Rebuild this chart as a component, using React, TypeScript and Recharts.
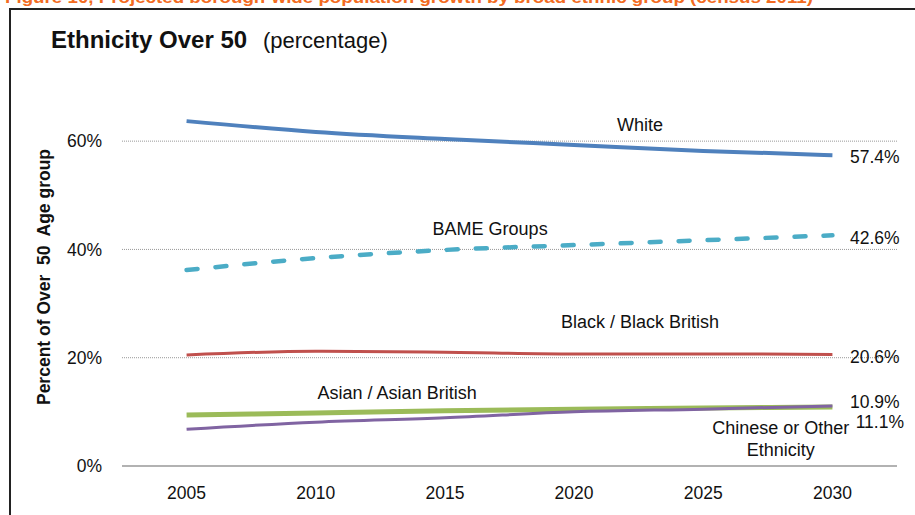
import { LineChart, Line, XAxis, YAxis, CartesianGrid, ReferenceDot } from "recharts";

// values (percent of over-50 population)
const years = [2005, 2010, 2015, 2020, 2025, 2030];
const white = [63.7, 61.7, 60.4, 59.3, 58.2, 57.4];
const bame = [36.2, 38.4, 39.9, 40.8, 41.7, 42.6];
const black = [20.5, 21.2, 21.0, 20.7, 20.7, 20.6];
const asian = [9.4, 9.8, 10.2, 10.5, 10.7, 10.9];
const chinese = [6.8, 8.1, 8.9, 10.0, 10.5, 11.1];

const yTicks = [0, 20, 40, 60];
const gridValues = [20, 40, 60];

const seriesLabels = ["White", "BAME Groups", "Black / Black British", "Asian / Asian British", "Chinese or Other", "Ethnicity"];
const endLabels = ["57.4%", "42.6%", "20.6%", "10.9%", "11.1%"];

const FONT = "'Liberation Sans', Arial, sans-serif";

// label placement, in chart (year, percent) space
const seriesLabelPos = [
  { year: 2022.55, value: 62.95 },
  { year: 2016.75, value: 43.9 },
  { year: 2022.55, value: 26.6 },
  { year: 2013.15, value: 13.5 },
  { year: 2028.0, value: 7.0 },
  { year: 2028.0, value: 2.95 },
];
const endLabelPos = [
  { year: 2030.68, value: 57.04 },
  { year: 2030.68, value: 42.09 },
  { year: 2030.68, value: 20.12 },
  { year: 2030.68, value: 11.81 },
  { year: 2030.9, value: 8.12 },
];

const data = years.map((year, i) => ({
  year,
  white: white[i],
  bame: bame[i],
  black: black[i],
  asian: asian[i],
  chinese: chinese[i],
}));

const Note = ({ cx, cy, text, anchor }: any) => (
  <text
    x={cx}
    y={cy}
    dy="0.35em"
    textAnchor={anchor}
    fontSize={anchor === "start" ? 17.5 : 18}
    fill="#111"
    fontFamily={FONT}
  >
    {text}
  </text>
);

export default function App() {
  return (
    <div style={{ position: "fixed", left: 0, top: 0, width: 915, height: 515, background: "#fff", overflow: "hidden" }}>
      {/* frame of the figure */}
      <div
        style={{
          position: "absolute",
          left: 9,
          top: 8,
          width: 920,
          height: 520,
          borderTop: "2px solid #222",
          borderLeft: "2px solid #222",
        }}
      />
      <div style={{ position: "absolute", left: 0, top: 0 }}>
        <LineChart
          width={915}
          height={515}
          data={data}
          margin={{ top: 87, right: 18, bottom: 0, left: 0 }}
          style={{ fontFamily: FONT }}
        >
          <CartesianGrid vertical={false} horizontalValues={gridValues} stroke="#999" strokeDasharray="1 1" />
          <XAxis
            dataKey="year"
            type="number"
            domain={[2002.5, 2032.5]}
            ticks={years}
            height={49}
            axisLine={{ stroke: "#999", strokeWidth: 1.5 }}
            tickLine={false}
            tickSize={0}
            tickMargin={21}
            tick={{ fill: "#111", fontSize: 17.5 }}
          />
          <YAxis
            domain={[0, 70]}
            ticks={yTicks}
            width={122}
            axisLine={false}
            tickLine={false}
            tickSize={0}
            tickMargin={20}
            tick={{ fill: "#111", fontSize: 17.5 }}
            tickFormatter={(v) => `${v}%`}
          />
          <Line type="monotone" dataKey="white" stroke="#4F81BD" strokeWidth={4} dot={false} isAnimationActive={false} />
          <Line
            type="monotone"
            dataKey="bame"
            stroke="#4BACC6"
            strokeWidth={4.5}
            strokeDasharray="11 18"
            strokeLinecap="round"
            dot={false}
            isAnimationActive={false}
          />
          <Line type="monotone" dataKey="black" stroke="#C0504D" strokeWidth={3} dot={false} isAnimationActive={false} />
          <Line type="monotone" dataKey="asian" stroke="#9BBB59" strokeWidth={5} dot={false} isAnimationActive={false} />
          <Line type="monotone" dataKey="chinese" stroke="#8064A2" strokeWidth={3} dot={false} isAnimationActive={false} />
          {seriesLabels.map((t, i) => (
            <ReferenceDot
              key={"s" + i}
              x={seriesLabelPos[i].year}
              y={seriesLabelPos[i].value}
              r={0}
              ifOverflow="visible"
              shape={(p: any) => <Note cx={p.cx} cy={p.cy} text={t} anchor="middle" />}
            />
          ))}
          {endLabels.map((t, i) => (
            <ReferenceDot
              key={"e" + i}
              x={endLabelPos[i].year}
              y={endLabelPos[i].value}
              r={0}
              ifOverflow="visible"
              shape={(p: any) => <Note cx={p.cx} cy={p.cy} text={t} anchor="start" />}
            />
          ))}
        </LineChart>
      </div>
      <svg width={915} height={515} style={{ position: "absolute", left: 0, top: 0, pointerEvents: "none" }}>
        <text x={5} y={3} fontFamily={FONT} fontWeight="bold" fontSize={16} fill="#F26B21" textLength={808} lengthAdjust="spacingAndGlyphs">
          Figure 10, Projected borough-wide population growth by broad ethnic group (census 2011)
        </text>
        <text x={51} y={48} fontFamily={FONT} fontWeight="bold" fontSize={24} fill="#111">
          Ethnicity Over 50
        </text>
        <text x={263} y={48} fontFamily={FONT} fontSize={22} fill="#111">
          (percentage)
        </text>
        <text
          transform="translate(50,277) rotate(-90)"
          textAnchor="middle"
          fontFamily={FONT}
          fontWeight="bold"
          fontSize={17.5}
          fill="#111"
          style={{ whiteSpace: "pre" }}
        >
          Percent of Over  50  Age group
        </text>
      </svg>
    </div>
  );
}
